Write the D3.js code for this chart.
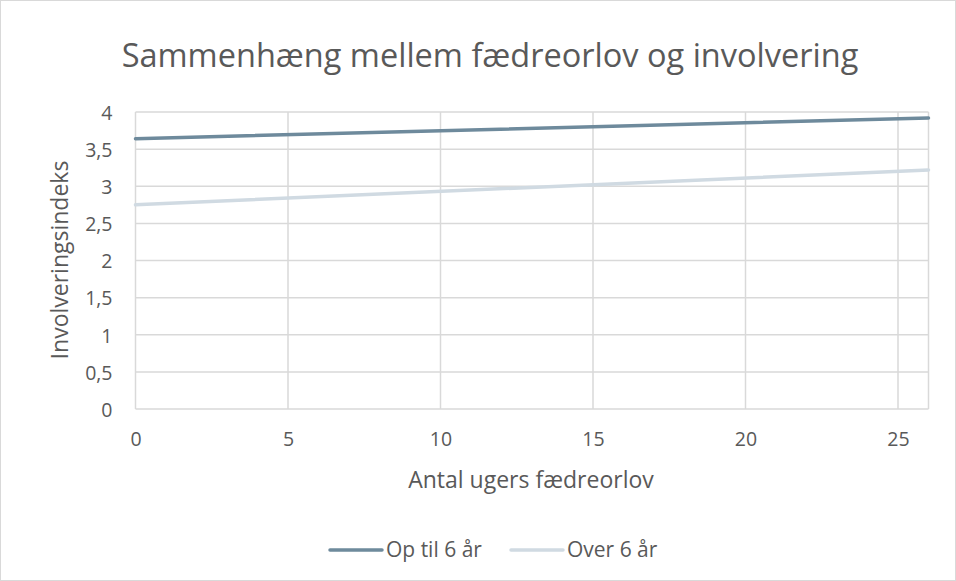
<!DOCTYPE html>
<html>
<head>
<meta charset="utf-8">
<script src="https://cdn.jsdelivr.net/npm/d3@7"></script>
<style>
  html, body { margin: 0; padding: 0; background: #fff; }
  svg { display: block; font-family: "Open Sans", Lato, sans-serif; }
</style>
</head>
<body>
<svg id="chart" width="956" height="581"></svg>
<script>
// Antal ugers fædreorlov (x) and the fitted involvement index per group
const weeks = [0, 26];
const seriesNames = ["Op til 6 år", "Over 6 år"];
const upTo6 = [3.64, 3.92];
const over6 = [2.75, 3.22];
const seriesColors = ["#6e8a9c", "#d0dae2"];
const xTicks = [0, 5, 10, 15, 20, 25];
const yTicks = [0, 0.5, 1, 1.5, 2, 2.5, 3, 3.5, 4];

const svg = d3.select("#chart");
const W = 956, H = 581;
const margin = { left: 135.5, right: 956 - 928.5, top: 112, bottom: 581 - 409 };
const textColor = "#595959";
const gridColor = "#d9d9d9";
const fontFamily = "'Open Sans', Lato, sans-serif";

// Chart frame
svg.append("rect")
  .attr("x", 0.5).attr("y", 0.5)
  .attr("width", W - 1).attr("height", H - 1)
  .attr("fill", "#fff").attr("stroke", gridColor);

const x = d3.scaleLinear().domain([0, 26]).range([margin.left, W - margin.right]);
const y = d3.scaleLinear().domain([0, 4]).range([H - margin.bottom, margin.top]);

const fmt = d => String(d).replace(".", ",");

// Gridlines
const grid = svg.append("g").attr("stroke", gridColor).attr("stroke-width", 1.5);
grid.selectAll(".hg").data(yTicks).join("line")
  .attr("x1", x(0)).attr("x2", x(26))
  .attr("y1", d => y(d)).attr("y2", d => y(d));
grid.selectAll(".vg").data(xTicks.concat([26])).join("line")
  .attr("x1", d => x(d)).attr("x2", d => x(d))
  .attr("y1", y(0)).attr("y2", y(4));

// Axes (labels only, no tick marks)
const yAxis = svg.append("g")
  .attr("transform", `translate(${x(0) - 23},1)`)
  .call(d3.axisLeft(y).tickValues(yTicks).tickFormat(fmt).tickSize(0).tickPadding(0));
yAxis.select(".domain").remove();
yAxis.selectAll("text").attr("fill", textColor).style("font-size", "19.5px")
  .style("font-family", fontFamily);

const xAxis = svg.append("g")
  .attr("transform", `translate(0,${y(0) + 23})`)
  .call(d3.axisBottom(x).tickValues(xTicks).tickFormat(fmt).tickSize(0).tickPadding(0));
xAxis.select(".domain").remove();
xAxis.selectAll("text").attr("fill", textColor).style("font-size", "19.5px")
  .style("font-family", fontFamily);

// Series lines
const series = [upTo6, over6];
const line = d3.line().x((d, i) => x(weeks[i])).y(d => y(d));
svg.append("g").selectAll("path").data(series).join("path")
  .attr("d", d => line(d))
  .attr("fill", "none")
  .attr("stroke", (d, i) => seriesColors[i])
  .attr("stroke-width", 3.5)
  .attr("stroke-linecap", "round");

// Title
svg.append("text")
  .attr("x", 490).attr("y", 67)
  .attr("text-anchor", "middle")
  .attr("fill", textColor)
  .style("font-size", "32.5px")
  .text("Sammenhæng mellem fædreorlov og involvering");

// Axis titles
svg.append("text")
  .attr("x", 531).attr("y", 488)
  .attr("text-anchor", "middle")
  .attr("fill", textColor)
  .style("font-size", "23px")
  .text("Antal ugers fædreorlov");

svg.append("text")
  .attr("transform", "translate(68,260) rotate(-90)")
  .attr("text-anchor", "middle")
  .attr("fill", textColor)
  .style("font-size", "23px")
  .text("Involveringsindeks");

// Legend
const legendItems = [
  { x1: 330, x2: 382, tx: 386 },
  { x1: 511, x2: 563, tx: 567 }
];
const legend = svg.append("g");
legendItems.forEach((it, i) => {
  legend.append("line")
    .attr("x1", it.x1).attr("x2", it.x2)
    .attr("y1", 550).attr("y2", 550)
    .attr("stroke", seriesColors[i]).attr("stroke-width", 3.5)
    .attr("stroke-linecap", "round");
  legend.append("text")
    .attr("x", it.tx).attr("y", 557)
    .attr("fill", textColor)
    .style("font-size", "21px")
    .text(seriesNames[i]);
});
</script>
</body>
</html>
